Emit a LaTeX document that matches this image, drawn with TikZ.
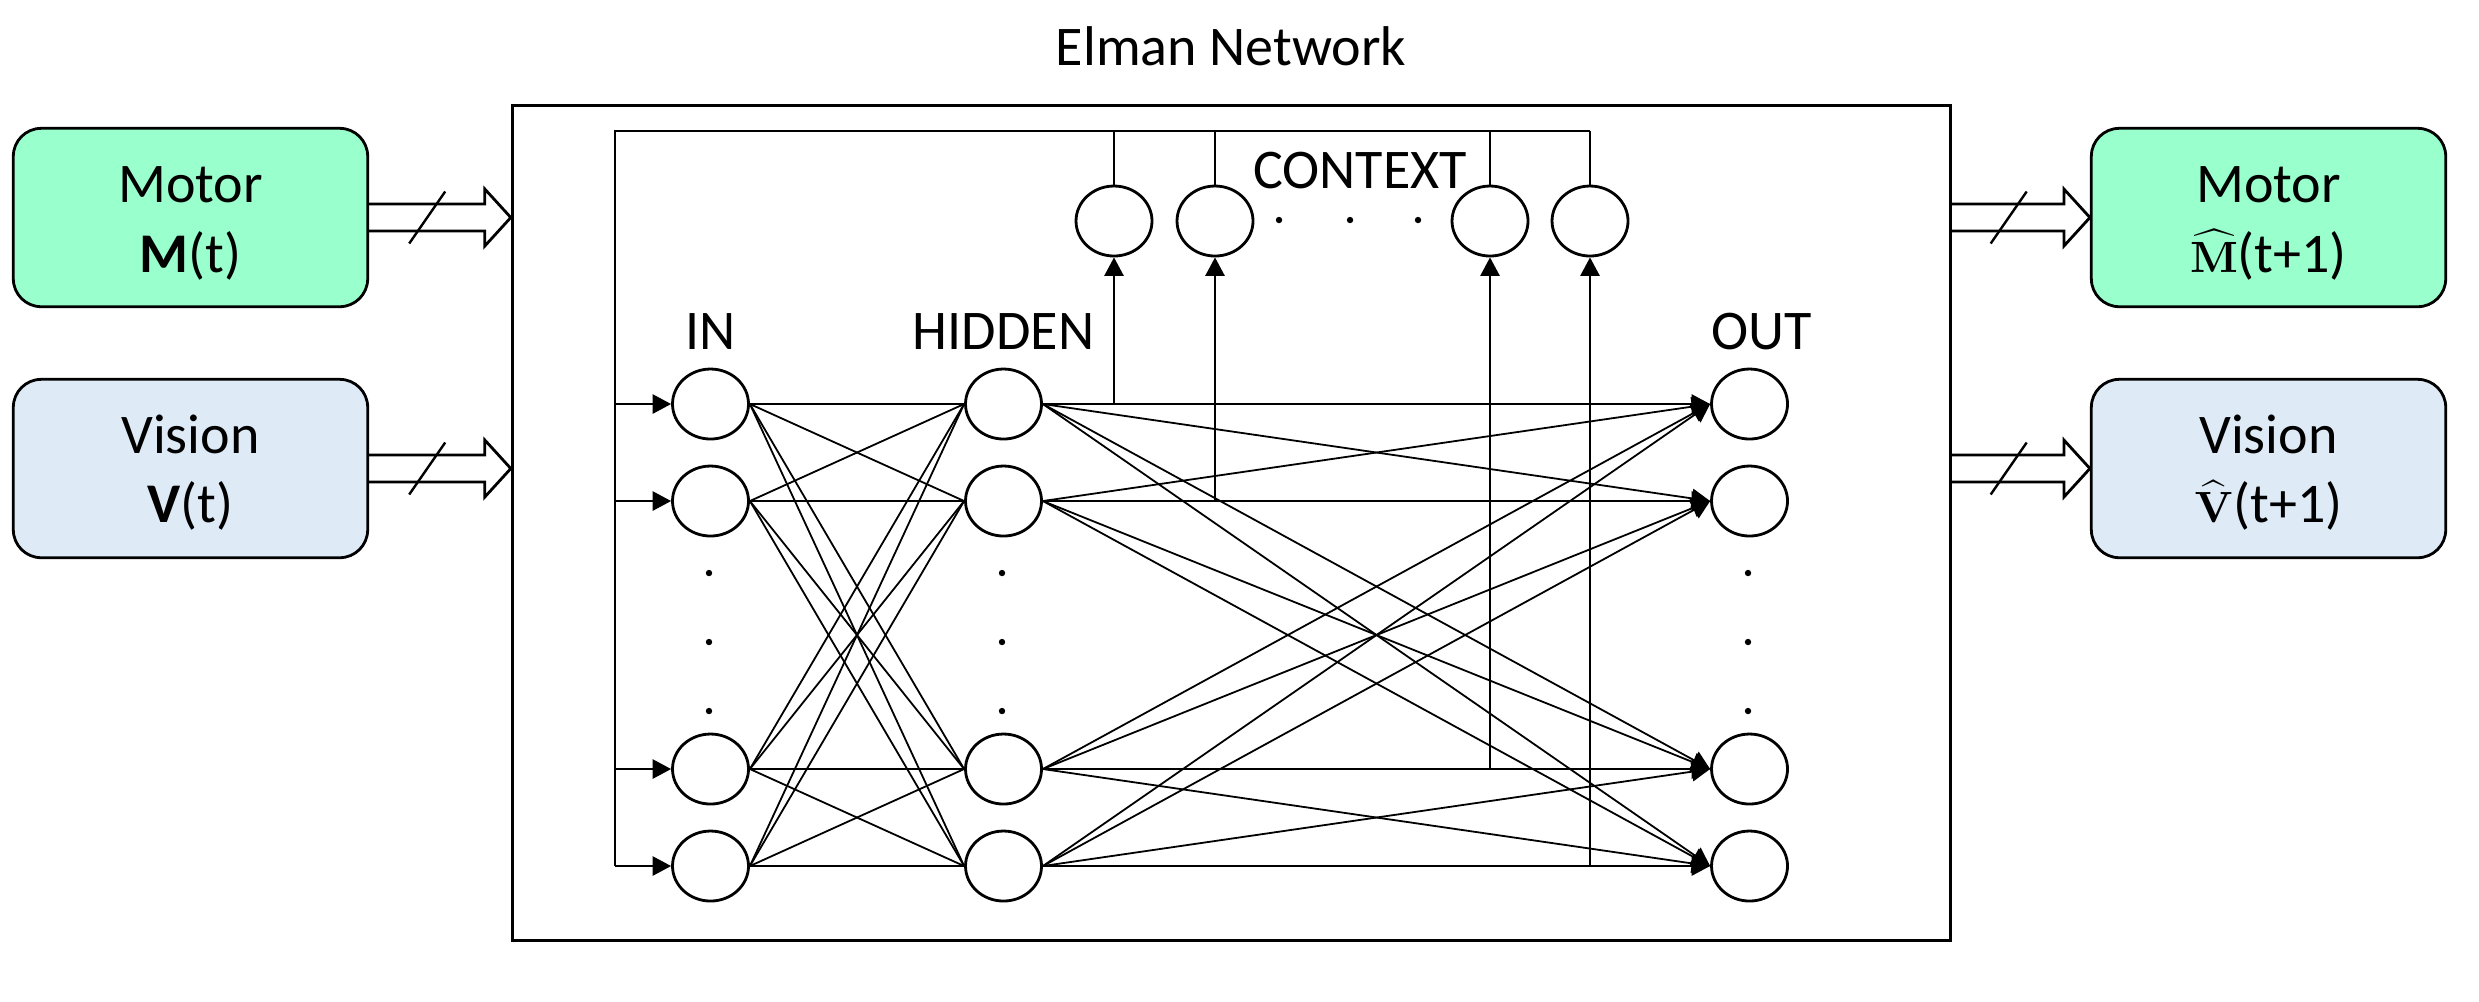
\documentclass[tikz,border=0pt]{standalone}
\usepackage[no-math]{fontspec}
\setmainfont{Carlito}
\usetikzlibrary{arrows.meta,shapes.geometric,calc}
\definecolor{motorgreen}{HTML}{99FFCC}
\definecolor{visionblue}{HTML}{DEEBF7}
\newcommand\hollowarrow[2]{%
  \draw[harrow] ($(#1)+(0,-13.5)$) -- ($(#2)+(-26,-13.5)$) -- ($(#2)+(-26,-28.5)$) -- (#2)
     -- ($(#2)+(-26,28.5)$) -- ($(#2)+(-26,13.5)$) -- ($(#1)+(0,13.5)$);
  \draw[slashline] ($(#1)!0.41!(#2)+(-18,26)$) -- ($(#1)!0.41!(#2)+(18,-26)$);
}
\newcommand\hatbf[1]{{\fontsize{11pt}{13pt}\selectfont$\widehat{\mathbf{#1}}$}}
\begin{document}
\begin{tikzpicture}[x=0.25pt,y=-0.25pt,
  lbl/.style={font=\fontsize{14pt}{17pt}\selectfont, inner sep=0pt, anchor=base},
  iobox/.style={draw, line width=0.7pt, rounded corners=7pt, minimum width=88.6pt, minimum height=44.6pt, inner sep=0pt},
  neuron/.style={draw, ellipse, line width=0.7pt, minimum width=19pt, minimum height=17.5pt, inner sep=0pt},
  conn/.style={line width=0.45pt},
  tipped/.style={-{Triangle[length=4.6pt,width=4.8pt]}},
  harrow/.style={line width=0.7pt, line join=miter},
  slashline/.style={line width=0.6pt}]
\useasboundingbox (0,0) rectangle (2479,1001);

% title and network frame
\node[lbl] (title) at (1231,65) {Elman Network};
\node[draw, line width=0.85pt, minimum width=359.5pt, minimum height=208.75pt, inner sep=0pt] (net) at (1231.5,523) {};

% input / output boxes
\node[iobox, fill=motorgreen] (mot) at (190.5,217.5) {};
\node[iobox, fill=visionblue] (vis) at (190.5,468.5) {};
\node[iobox, fill=motorgreen] (moth) at (2268.5,217.5) {};
\node[iobox, fill=visionblue] (vish) at (2268.5,468.5) {};

\node[lbl] (motT) at (190.5,202) {Motor};
\node[lbl] (motS) at (190.5,272) {\textbf{M}(t)};
\node[lbl] (visT) at (190.5,453) {Vision};
\node[lbl] (visS) at (190.5,522) {\textbf{V}(t)};
\node[lbl] (mothT) at (2268.5,202) {Motor};
\node[lbl] (mothS) at (2268.5,272) {\hatbf{M}(t+1)};
\node[lbl] (vishT) at (2268.5,453) {Vision};
\node[lbl] (vishS) at (2268.5,522) {\hatbf{V}(t+1)};

% hollow bus arrows
\coordinate (la1) at (net.west |- mot.east);
\coordinate (la2) at (net.west |- vis.east);
\coordinate (ra1) at (net.east |- moth.west);
\coordinate (ra2) at (net.east |- vish.west);
\hollowarrow{mot.east}{la1}
\hollowarrow{vis.east}{la2}
\hollowarrow{ra1}{moth.west}
\hollowarrow{ra2}{vish.west}

% neurons
\foreach \n/\y in {1/404,2/501,3/769,4/866} {
  \node[neuron] (in\n) at (710.5,\y) {};
  \node[neuron] (hid\n) at (1003.5,\y) {};
  \node[neuron] (out\n) at (1749.5,\y) {};
}
\foreach \n/\x in {1/1114,2/1215,3/1490,4/1590}
  \node[neuron] (ctx\n) at (\x,221) {};

% layer labels
\node[lbl] (inL) at (710.5,349) {IN};
\node[lbl] (hidL) at (1003.5,349) {HIDDEN};
\node[lbl] (outL) at (1762,349) {OUT};
\node[lbl] (ctxL) at (1360,188) {CONTEXT};

% ellipsis dots
\foreach \x in {709,1002,1748}
  \foreach \y in {573,642,711}
    \fill (\x,\y) circle[radius=0.8pt];
\foreach \x in {1279,1350,1418}
  \fill (\x,220) circle[radius=0.8pt];

% connections
\foreach \i in {1,...,4}
  \foreach \j in {1,...,4} {
    \draw[conn] (in\i.east) -- (hid\j.west);
    \draw[conn,tipped] (hid\i.east) -- (out\j.west);
  }

% context feedback
\coordinate (fb) at (615,131);
\draw[conn] (ctx4.north |- fb) -- (fb) -- (fb |- in4.west);
\foreach \i in {1,...,4} {
  \draw[conn,tipped] (ctx\i |- hid\i.east) -- (ctx\i.south);
  \draw[conn] (ctx\i.north) -- (ctx\i.north |- fb);
  \draw[conn,tipped] (fb |- in\i.west) -- (in\i.west);
}
\end{tikzpicture}
\end{document}
